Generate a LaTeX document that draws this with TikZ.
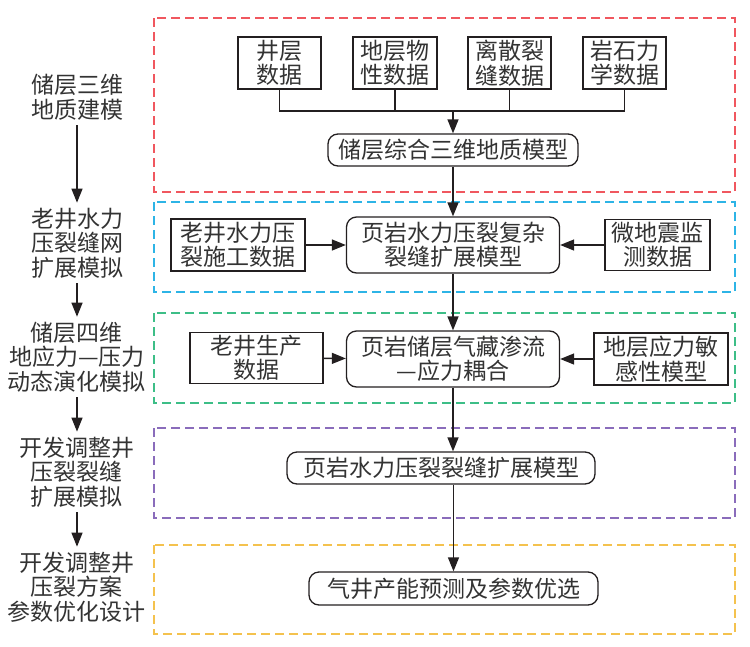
\documentclass[tikz,border=0pt]{standalone}
\usepackage{fontspec}
\setmainfont{Noto Sans CJK SC}
\usetikzlibrary{arrows.meta}
\definecolor{frame-red}{HTML}{F0575F}
\definecolor{frame-blue}{HTML}{2DB4E6}
\definecolor{frame-green}{HTML}{3DBE87}
\definecolor{frame-purple}{HTML}{8A6CBB}
\definecolor{frame-yellow}{HTML}{F4C24E}
\definecolor{ink}{HTML}{231F20}
\definecolor{label-text}{HTML}{333333}

\begin{document}
\begin{tikzpicture}[x=1pt, y=-1pt,
    every node/.style={font=\fontsize{23}{24.5}\selectfont, text=label-text},
    databox/.style={draw=ink, line width=1.3pt, inner sep=0pt, align=center},
    modelbox/.style={databox, rounded corners=10pt},
    steplabel/.style={align=center, inner sep=5pt},
    frame/.style={line width=1.2pt, dash pattern=on 9pt off 5pt},
    link/.style={draw=ink, line width=1.3pt},
    arr/.style={link, -{Triangle[length=14pt, width=11pt]}}]
    % Flow chart, pixel grid (x right, y down), 750 x 646
    %   left step labels at x=77, arrows between them
    %   frames from x=154 to x=735: red 18-192, blue 202-292,
    %   green 313-403, purple 428-518, yellow 545-634
    %   main column at x=453
    \useasboundingbox (0,0) rectangle (750,646);

    % stage frames
    \draw[frame, frame-red]    (154,18)  rectangle (735,192);
    \draw[frame, frame-blue]   (154,202) rectangle (735,292);
    \draw[frame, frame-green]  (154,313) rectangle (735,403);
    \draw[frame, frame-purple] (154,428) rectangle (735,518);
    \draw[frame, frame-yellow] (154,545) rectangle (735,634);

    % left column
    \node[steplabel] (l1) at (77,97)  {储层三维\\地质建模};
    \node[steplabel] (l2) at (77,243) {老井水力\\压裂缝网\\扩展模拟};
    \node[steplabel] (l3) at (77,357) {储层四维\\地应力—压力\\动态演化模拟};
    \node[steplabel] (l4) at (77,472) {开发调整井\\压裂裂缝\\扩展模拟};
    \node[steplabel] (l5) at (77,587) {开发调整井\\压裂方案\\参数优化设计};
    \draw[arr] (l1) -- (l2);
    \draw[arr] (l2) -- (l3);
    \draw[arr] (l3) -- (l4);
    \draw[arr] (l4) -- (l5);

    % geological model inputs
    \node[databox, minimum width=83pt, minimum height=52pt] (jc) at (279.5,63) {井层\\数据};
    \node[databox, minimum width=84pt, minimum height=52pt] (dw) at (395,63)   {地层物\\性数据};
    \node[databox, minimum width=83pt, minimum height=52pt] (ls) at (509.5,63) {离散裂\\缝数据};
    \node[databox, minimum width=83pt, minimum height=52pt] (ys) at (624.5,63) {岩石力\\学数据};
    \node[modelbox, minimum width=250pt, minimum height=32pt] (zh) at (453,150) {储层综合三维地质模型};
    \coordinate (bus) at (453,111);
    \draw[link] (jc.south) -- (jc.south |- bus) -- (ys.south |- bus) -- (ys.south);
    \draw[link] (dw.south) -- (dw.south |- bus);
    \draw[link] (ls.south) -- (ls.south |- bus);
    \draw[arr] (bus) -- (zh.north);

    % fracture propagation of old wells
    \node[modelbox, minimum width=213pt, minimum height=56pt] (fz) at (453,245) {页岩水力压裂复杂\\裂缝扩展模型};
    \node[databox, minimum width=134pt, minimum height=52pt] (lg) at (238,245)   {老井水力压\\裂施工数据};
    \node[databox, minimum width=105pt, minimum height=51pt] (wd) at (657.5,245) {微地震监\\测数据};
    \draw[arr] (zh) -- (fz);
    \draw[arr] (lg) -- (fz);
    \draw[arr] (wd) -- (fz);

    % stress--pressure coupling
    \node[modelbox, minimum width=213pt, minimum height=56pt] (ss) at (453,359) {页岩储层气藏渗流\\—应力耦合};
    \node[databox, minimum width=133pt, minimum height=51pt] (sc) at (256.5,358) {老井生产\\数据};
    \node[databox, minimum width=134pt, minimum height=52pt] (yl) at (661,359)   {地层应力敏\\感性模型};
    \draw[arr] (fz) -- (ss);
    \draw[arr] (sc) -- (ss);
    \draw[arr] (yl) -- (ss);

    % infill wells
    \node[modelbox, minimum width=308pt, minimum height=32pt] (kz) at (441,468)   {页岩水力压裂裂缝扩展模型};
    \node[modelbox, minimum width=289pt, minimum height=33pt] (cn) at (453.5,588.5) {气井产能预测及参数优选};
    \draw[arr] (ss.south) -- (ss.south |- kz.north);
    \draw[arr] (kz.south -| cn.north) -- (cn.north);
\end{tikzpicture}
\end{document}
